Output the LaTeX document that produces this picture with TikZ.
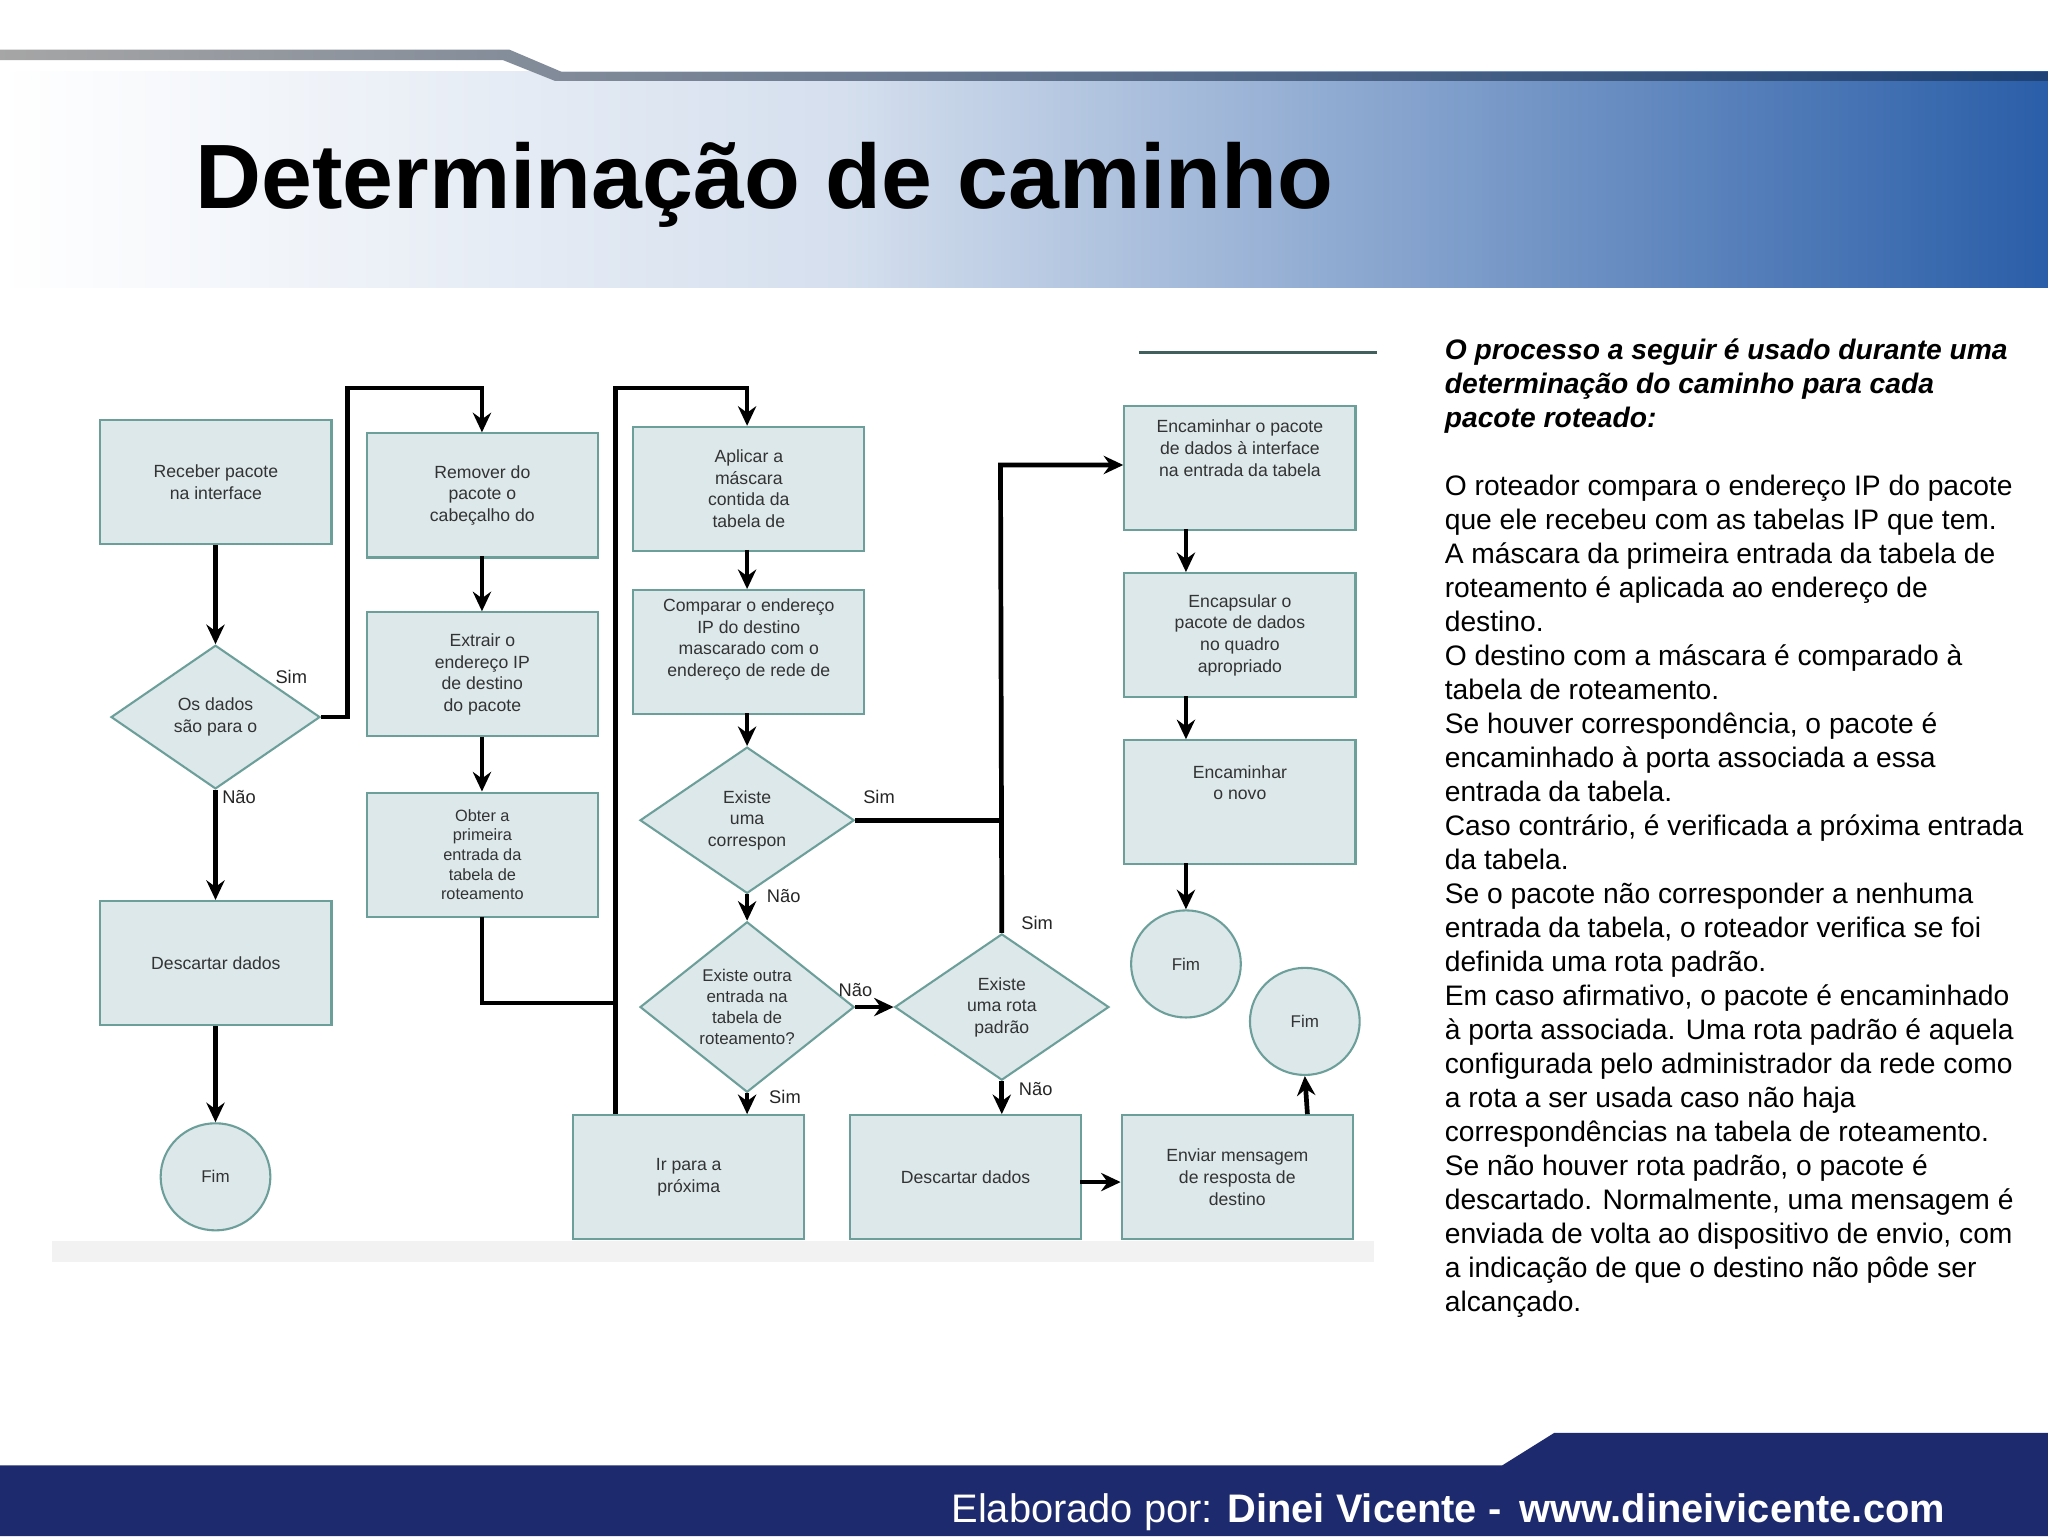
\documentclass[tikz,border=0pt]{standalone}
\usepackage{fontspec}
\setmainfont{Liberation Sans}
\usetikzlibrary{shapes.geometric,arrows.meta,calc}
\definecolor{boxfill}{HTML}{DDE8EA}
\definecolor{boxline}{HTML}{6C9F9A}
\definecolor{navy}{HTML}{1E2A6E}
\definecolor{hblue}{HTML}{2A5EA8}
\tikzset{
 box/.style={draw=boxline,fill=boxfill,line width=1.6pt,minimum width=177pt,minimum height=95pt,align=center,font=\fontsize{13.5}{16.5}\selectfont,text=black!80,anchor=north west,inner sep=2pt},
 dia/.style={draw=boxline,fill=boxfill,line width=1.6pt,diamond,minimum width=164pt,minimum height=112pt,inner sep=0pt,align=center,font=\fontsize{13.5}{16.5}\selectfont,text=black!80},
 endc/.style={draw=boxline,fill=boxfill,line width=1.6pt,ellipse,minimum width=84pt,minimum height=82pt,font=\fontsize{13}{16}\selectfont,text=black!80},
 arr/.style={line width=3.6pt,-{Stealth[length=15pt,width=14pt,inset=5pt]}},
 ln/.style={line width=3.6pt},
 lab/.style={font=\fontsize{14}{16}\selectfont,text=black!85}
}
\begin{document}
\begin{tikzpicture}[x=1pt,y=-1pt]
\useasboundingbox (0,0) rectangle (1568,1176);
\fill[white] (0,0) rectangle (1568,1176);
% header
\shade[left color=white,right color=white!80!hblue] (0,55) rectangle (650,220);
\shade[left color=white!80!hblue,right color=hblue] (650,55) rectangle (1568,220);
\shade[left color=black!35,right color=hblue!70!black] (0,38) -- (390,38) -- (430,55) -- (1568,55) -- (1568,62) -- (425,62) -- (385,46) -- (0,46) -- cycle;
\node[anchor=base west,font=\fontsize{70}{76}\selectfont\bfseries] (title) at (146,160) {Determinação de caminho};
% footer
\fill[navy] (0,1122) -- (1150,1122) -- (1190,1097) -- (1568,1097) -- (1568,1176) -- (0,1176) -- cycle;
\node[anchor=base west,text=white,font=\fontsize{30.5}{32}\selectfont] (foot) at (725,1166) {Elaborado por: \textbf{Dinei Vicente -\, www.dineivicente.com}};
% thin line
\draw[line width=2.5pt,color=boxline!60!black] (872,270) -- (1054,270);
% flow shadow
\fill[black!5] (40,950) rectangle (1052,966);
% nodes
\node[box] (rec) at (76,321) {Receber pacote\\na interface};
\node[dia,minimum width=160pt,minimum height=110pt] (d0) at (165,549) {Os dados\\são para o};
\node[box] (desc1) at (76,689) {Descartar dados};
\node[endc] (fim1) at (165,901) {Fim};
\node[box] (rem) at (280,331) {Remover do\\pacote o\\cabeçalho do};
\node[box] (ext) at (280,468) {Extrair o\\endereço IP\\de destino\\do pacote};
\node[box,font=\fontsize{12.5}{15}\selectfont] (obt) at (280,606) {Obter a\\primeira\\entrada da\\tabela de\\roteamento};
\node[box] (apl) at (484,326) {Aplicar a\\máscara\\contida da\\tabela de};
\node[box] (cmp) at (484,451) {Comparar o endereço\\IP do destino\\mascarado com o\\endereço de rede de\\[6pt]};
\node[dia] (d1) at (572,628) {Existe\\uma\\correspon};
\node[dia,font=\fontsize{13}{16}\selectfont] (d2) at (572,771) {Existe outra\\entrada na\\tabela de\\roteamento?};
\node[dia] (d3) at (767,771) {Existe\\uma rota\\padrão};
\node[box] (ir) at (438,853) {Ir para a\\próxima};
\node[box] (desc2) at (650,853) {Descartar dados};
\node[box] (env) at (858,853) {Enviar mensagem\\de resposta de\\destino};
\node[box] (enc) at (860,310) {Encaminhar o pacote\\de dados à interface\\na entrada da tabela\\[14pt]};
\node[box] (cap) at (860,438) {Encapsular o\\pacote de dados\\no quadro\\apropriado};
\node[box] (nov) at (860,566) {Encaminhar\\o novo\\[14pt]};
\node[endc] (fim2) at (908,738) {Fim};
\node[endc] (fim3) at (999,782) {Fim};
% connectors
\draw[arr] (rec.south -| d0.north) -- (d0.north);
\draw[arr] (d0.south) -- (desc1.north -| d0.south);
\draw[arr] (desc1.south -| fim1.north) -- (fim1.north);
\coordinate (t1) at (369,297);
\draw[arr] (d0.east) -- (266,549) -- (266,297) -- (t1) -- (369,331);
\draw[arr] (369,426) -- (369,468);
\draw[arr] (369,564) -- (369,606);
\coordinate (j1) at (471,768);
\draw[ln] (369,702) -- (369,768) -- (j1);
\draw[arr] (471,853) -- (471,297) -- (572,297) -- (572,326);
\draw[arr] (572,421) -- (572,451);
\draw[arr] (572,546) -- (d1.north);
\draw[arr] (d1.south) -- (d2.north);
\draw[arr] (d2.east) -- (d3.west);
\draw[arr] (d2.south) -- (572,853);
\draw[arr] (d3.south) -- (767,853);
\draw[ln] (d1.east) -- (766,628);
\draw[arr] (d3.north) -- (766,356) -- (860,356);
\draw[arr] (827,905) -- (858,905);
\draw[arr] (1001,853) -- (fim3.south);
\draw[arr] (908,405) -- (908,438);
\draw[arr] (908,533) -- (908,566);
\draw[arr] (908,661) -- (fim2.north);
% labels
\node[lab] (l1) at (223,518) {Sim};
\node[lab] (l2) at (183,610) {Não};
\node[lab] (l3) at (673,610) {Sim};
\node[lab] (l4) at (600,686) {Não};
\node[lab] (l5) at (794,707) {Sim};
\node[lab] (l6) at (655,758) {Não};
\node[lab] (l7) at (601,840) {Sim};
\node[lab] (l8) at (793,834) {Não};
% right text
\node[anchor=north west,align=left,inner sep=0pt,font=\fontsize{21.6}{26.05}\selectfont] (txt) at (1106,259) {%
\textbf{\textit{O processo a seguir é usado durante uma}}\\
\textbf{\textit{determinação do caminho para cada}}\\
\textbf{\textit{pacote roteado:}}\\
\mbox{}\\
O roteador compara o endereço IP do pacote\\
que ele recebeu com as tabelas IP que tem.\\
A máscara da primeira entrada da tabela de\\
roteamento é aplicada ao endereço de\\
destino.\\
O destino com a máscara é comparado à\\
tabela de roteamento.\\
Se houver correspondência, o pacote é\\
encaminhado à porta associada a essa\\
entrada da tabela.\\
Caso contrário, é verificada a próxima entrada\\
da tabela.\\
Se o pacote não corresponder a nenhuma\\
entrada da tabela, o roteador verifica se foi\\
definida uma rota padrão.\\
Em caso afirmativo, o pacote é encaminhado\\
à porta associada. Uma rota padrão é aquela\\
configurada pelo administrador da rede como\\
a rota a ser usada caso não haja\\
correspondências na tabela de roteamento.\\
Se não houver rota padrão, o pacote é\\
descartado. Normalmente, uma mensagem é\\
enviada de volta ao dispositivo de envio, com\\
a indicação de que o destino não pôde ser\\
alcançado.};
\end{tikzpicture}
\end{document}
